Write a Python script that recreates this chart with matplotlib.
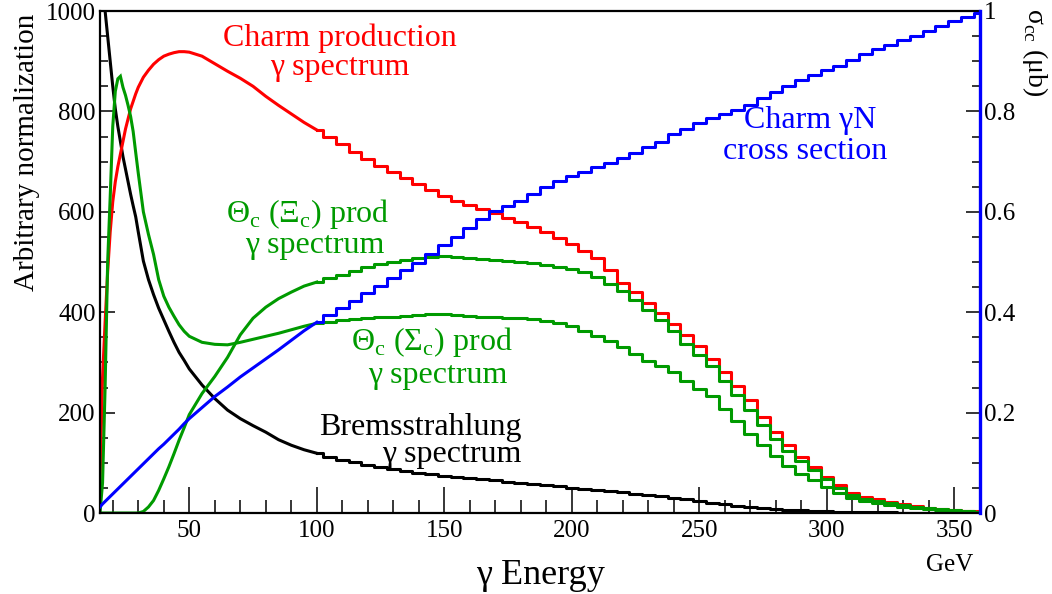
import numpy as np
import matplotlib
matplotlib.use("Agg")
import matplotlib.pyplot as plt
from matplotlib.ticker import MultipleLocator

plt.rcParams["font.family"] = ["Liberation Serif", "DejaVu Serif"]
plt.rcParams["mathtext.fontset"] = "custom"
plt.rcParams["mathtext.rm"] = "Liberation Serif"

# bin centres (GeV): 1 GeV bins at low energy, then 2 GeV, then 5 GeV
energy = np.concatenate([np.arange(15, 31), np.arange(32, 51, 2), np.arange(55, 361, 5)])

# Bremsstrahlung photon spectrum (arbitrary normalization)
brems = [1120, 1060, 1000, 950, 900, 850, 805, 770, 740, 710, 685, 660, 635, 612, 590, 560,
         502, 465, 435, 408, 385, 362, 340, 320, 304, 287,
         255, 228, 205, 188, 174, 161, 146, 135, 126, 119,
         112, 106, 101, 96, 91, 87, 83, 80, 77, 74,
         71, 69, 67, 65, 62, 60, 57, 55, 53, 50,
         48, 45, 43, 41, 38, 36, 33, 30, 28, 24,
         20, 17, 14, 12, 10, 8, 6, 5, 4, 3,
         2, 2, 1, 1, 1, 0, 0, 0, 0, 0,
         0, 0]

# photon spectrum weighted with charm production
charm = [60, 270, 380, 480, 560, 620, 660, 690, 715, 740, 765, 785, 805, 820, 835, 848,
         868, 882, 894, 903, 910, 914, 917, 919, 919, 918,
         910, 895, 880, 866, 850, 830, 812, 795, 778, 763,
         749, 735, 720, 706, 692, 680, 667, 655, 643, 632,
         622, 613, 605, 597, 588, 580, 570, 560, 548, 535,
         521, 508, 484, 458, 440, 418, 398, 376, 355, 332,
         307, 280, 253, 225, 192, 162, 135, 112, 91, 72,
         55, 40, 31, 27, 22, 17, 13, 10, 8, 6,
         4, 3]

# Theta_c production via Xi_c
theta_xi = [0] * 16 + [
         3, 12, 25, 45, 68, 92, 118, 145, 170, 196,
         238, 272, 310, 355, 388, 410, 427, 440, 452, 460,
         468, 475, 483, 490, 496, 500, 504, 507, 510, 512,
         510, 508, 505, 503, 501, 500, 498, 495, 491, 487,
         481, 470, 457, 442, 425, 405, 384, 362, 337, 315,
         293, 263, 235, 205, 175, 148, 123, 103, 85, 67,
         50, 36, 28, 24, 20, 15, 12, 9, 7, 5,
         3, 2]

# Theta_c production via Sigma_c
theta_sigma = [0, 60, 250, 500, 630, 770, 840, 865, 870, 848, 832, 812, 790, 760, 718, 677,
               600, 555, 515, 465, 432, 410, 392, 375, 362, 352,
               340, 336, 335, 340, 346, 352, 358, 365, 372, 378,
               381, 384, 387, 389, 390, 391, 393, 395, 397, 397,
               395, 393, 391, 390, 389, 388, 386, 383, 379, 372,
               362, 352, 342, 331, 316, 303, 292, 280, 262, 247,
               233, 208, 183, 158, 135, 113, 93, 78, 65, 52,
               40, 30, 23, 20, 15, 11, 9, 7, 5, 4,
               3, 2]

# charm photoproduction cross section (ub)
sigma_cc = [0.012, 0.018, 0.023, 0.028, 0.033, 0.038, 0.043, 0.048, 0.053, 0.058,
            0.063, 0.068, 0.073, 0.078, 0.083, 0.088,
            0.098, 0.108, 0.118, 0.128, 0.137, 0.147, 0.157, 0.167, 0.178, 0.188,
            0.210, 0.232, 0.251, 0.271, 0.289, 0.307, 0.325, 0.344, 0.363, 0.380,
            0.394, 0.408, 0.423, 0.439, 0.453, 0.469, 0.484, 0.499, 0.516, 0.533,
            0.550, 0.568, 0.586, 0.601, 0.612, 0.622, 0.636, 0.649, 0.661, 0.671,
            0.680, 0.689, 0.698, 0.707, 0.718, 0.729, 0.740, 0.755, 0.765, 0.776,
            0.786, 0.795, 0.803, 0.812, 0.826, 0.839, 0.850, 0.862, 0.873, 0.882,
            0.891, 0.902, 0.914, 0.925, 0.933, 0.942, 0.951, 0.960, 0.970, 0.980,
            0.989, 0.996]

GREEN = "#009a00"
LW = 2.2
STEP_FROM = 100  # fine bins below this look smooth, coarse bins above show as steps


def draw_hist(axis, values, color):
    values = np.asarray(values, dtype=float)
    k = int(np.searchsorted(energy, STEP_FROM))
    axis.plot(energy[:k + 1], values[:k + 1], color=color, lw=LW, solid_joinstyle="miter")
    axis.step(energy[k:], values[k:], where="mid", color=color, lw=LW)


fig = plt.figure(figsize=(10.52, 5.94), dpi=100)
ax = fig.add_axes([100 / 1052, 81 / 594, 880 / 1052, 502 / 594])

draw_hist(ax, brems, "black")
draw_hist(ax, charm, "red")
draw_hist(ax, theta_sigma, GREEN)
draw_hist(ax, theta_xi, GREEN)

ax.set_xlim(15, 360)
ax.set_ylim(0, 1000)
ax.xaxis.set_major_locator(MultipleLocator(50))
ax.xaxis.set_minor_locator(MultipleLocator(10))
ax.yaxis.set_major_locator(MultipleLocator(200))
ax.yaxis.set_minor_locator(MultipleLocator(50))
ax.tick_params(axis="x", which="major", direction="in", length=19, width=1.1,
               labelsize=18, pad=5, top=False)
ax.tick_params(axis="x", which="minor", direction="in", length=9.5, width=1.1, top=False)
ax.tick_params(axis="y", which="major", direction="in", length=11, width=1.1,
               labelsize=18, pad=3, right=False)
ax.tick_params(axis="y", which="minor", direction="in", length=6, width=1.1, right=False)
for s in ["left", "bottom", "top"]:
    ax.spines[s].set_linewidth(1.6)
ax.spines["right"].set_visible(False)

# cross section on its own scale
ax2 = ax.twinx()
draw_hist(ax2, sigma_cc, "blue")
ax2.set_ylim(0, 1)
ax2.yaxis.set_major_locator(MultipleLocator(0.2))
ax2.yaxis.set_minor_locator(MultipleLocator(0.05))
ax2.yaxis.set_major_formatter(plt.FuncFormatter(lambda v, p: f"{v:g}"))
ax2.tick_params(axis="y", which="major", direction="in", length=10, width=1.1,
                labelsize=18, pad=3)
ax2.tick_params(axis="y", which="minor", direction="in", length=6, width=1.1)
for s in ["left", "bottom", "top"]:
    ax2.spines[s].set_visible(False)
ax2.spines["right"].set_color("blue")
ax2.spines["right"].set_linewidth(2.4)

# curve labels
fs = 23
ax.text(109, 946, "Charm production", color="red", fontsize=fs, ha="center", va="center")
ax.text(109, 888, "γ spectrum", color="red", fontsize=fs, ha="center", va="center")
ax.text(96.6, 596, r"Θ$_\mathrm{c}$ (Ξ$_\mathrm{c}$) prod", color=GREEN, fontsize=fs,
        ha="center", va="center")
ax.text(99.3, 532, "γ spectrum", color=GREEN, fontsize=fs, ha="center", va="center")
ax.text(145.2, 341, r"Θ$_\mathrm{c}$ (Σ$_\mathrm{c}$) prod", color=GREEN, fontsize=fs,
        ha="center", va="center")
ax.text(147.5, 273, "γ spectrum", color=GREEN, fontsize=fs, ha="center", va="center")
ax.text(140.5, 170, "Bremsstrahlung", color="black", fontsize=fs, ha="center", va="center")
ax.text(153, 117, "γ spectrum", color="black", fontsize=fs, ha="center", va="center")
ax.text(293.4, 781, "Charm γN", color="blue", fontsize=fs, ha="center", va="center")
ax.text(291.5, 721, "cross section", color="blue", fontsize=fs, ha="center", va="center")

# axis titles
fig.text(540 / 1052, 1 - 575 / 594, "γ Energy", fontsize=26, ha="center", va="center")
fig.text(950 / 1052, 1 - 565 / 594, "GeV", fontsize=18, ha="center", va="center")
fig.text(27 / 1052, 1 - 14 / 594, "Arbitrary normalization", fontsize=21,
         rotation=90, ha="center", va="top")
fig.text(1035 / 1052, 1 - 8 / 594, r"σ$_\mathrm{cc}$ (μb)", fontsize=20,
         rotation=270, ha="center", va="top")

fig.savefig("out.png", dpi=100)
